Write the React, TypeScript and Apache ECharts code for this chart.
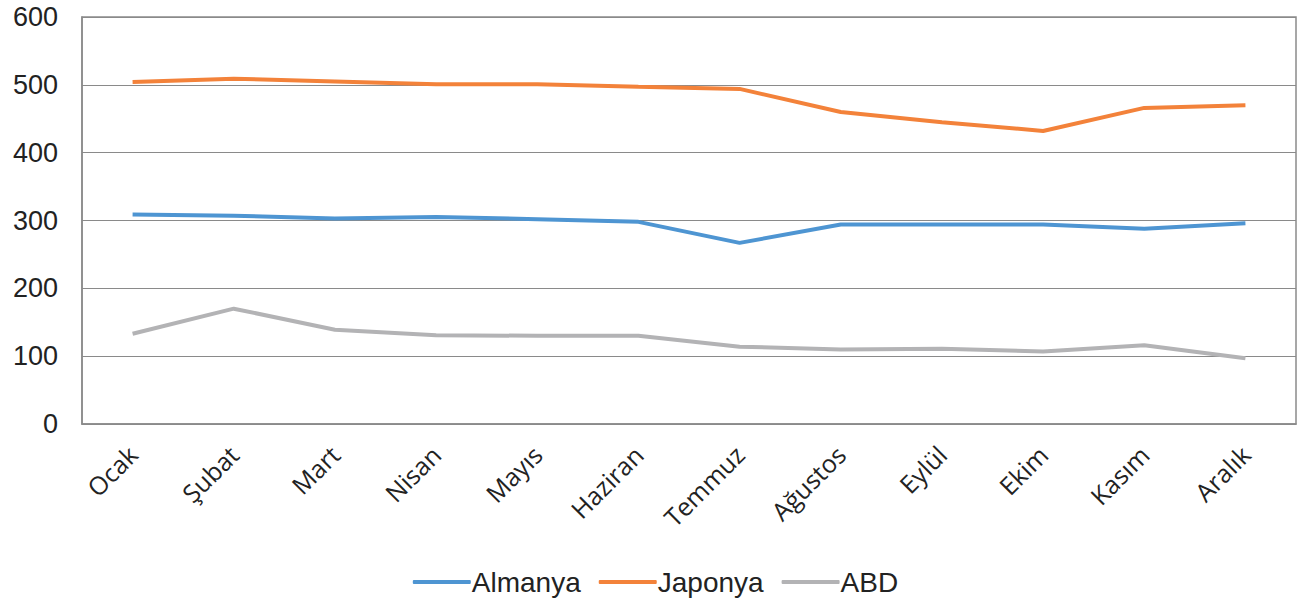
import React, { useEffect, useRef } from "react";
import * as echarts from "echarts";

const months = ["Ocak", "Şubat", "Mart", "Nisan", "Mayıs", "Haziran", "Temmuz", "Ağustos", "Eylül", "Ekim", "Kasım", "Aralık"];
const almanya = [309, 307, 303, 305, 302, 298, 267, 294, 294, 294, 288, 296];
const japonya = [504, 509, 505, 501, 501, 497, 494, 460, 445, 432, 466, 470];
const abd = [133, 170, 139, 131, 130, 130, 114, 110, 111, 107, 116, 97];
const yTicks = { min: 0, max: 600, interval: 100 };

export default function App() {
  const ref = useRef<HTMLDivElement>(null);
  useEffect(() => {
    const chart = echarts.init(ref.current!, null, { renderer: "svg" });
    const mk = (name: string, data: number[], color: string) => ({
      name,
      type: "line",
      data,
      symbol: "none",
      lineStyle: { color, width: 4 },
      itemStyle: { color },
    });
    chart.setOption({
      animation: false,
      backgroundColor: "#fff",
      grid: {
        left: 82,
        top: 17,
        right: 15,
        bottom: 177,
        show: true,
        borderColor: "#8a8a8a",
        borderWidth: 1.5,
        containLabel: false,
      },
      legend: {
        bottom: 0,
        left: "center",
        itemWidth: 58,
        itemHeight: 4,
        itemGap: 18,
        icon: "roundRect",
        textStyle: { fontFamily: "'Liberation Sans', Arial, sans-serif", fontSize: 28, color: "#222", padding: [0, 0, 0, -4] },
        data: ["Almanya", "Japonya", "ABD"],
      },
      xAxis: {
        type: "category",
        data: months,
        boundaryGap: true,
        axisLine: { show: true, lineStyle: { color: "#8a8a8a", width: 1.5 } },
        axisTick: { show: false },
        axisLabel: {
          rotate: 45,
          margin: 26,
          fontFamily: "'Open Sans', sans-serif",
          fontSize: 25,
          color: "#222",
          interval: 0,
        },
      },
      yAxis: {
        type: "value",
        min: yTicks.min,
        max: yTicks.max,
        interval: yTicks.interval,
        axisLine: { show: true, lineStyle: { color: "#8a8a8a", width: 1.5 } },
        axisTick: { show: false },
        splitLine: { lineStyle: { color: "#8a8a8a", width: 1.2 } },
        axisLabel: {
          margin: 24,
          fontFamily: "'Liberation Sans', Arial, sans-serif",
          fontSize: 27,
          color: "#222",
        },
      },
      series: [
        mk("Almanya", almanya, "#4e95d2"),
        mk("Japonya", japonya, "#f3823a"),
        mk("ABD", abd, "#b3b3b5"),
      ],
    });
    return () => chart.dispose();
  }, []);
  return <div ref={ref} style={{ position: "fixed", left: 0, top: 0, width: 1311, height: 601 }} />;
}
